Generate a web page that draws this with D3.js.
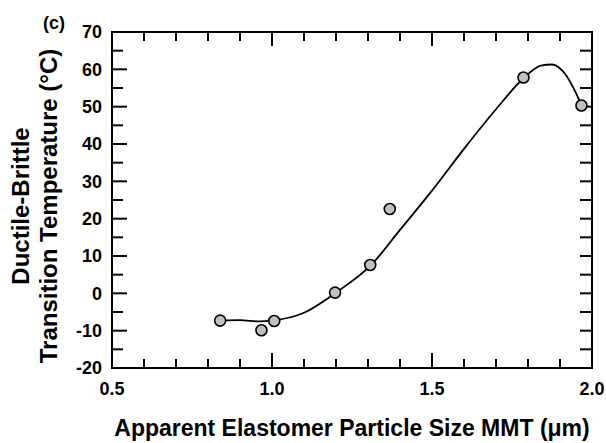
<!DOCTYPE html>
<html>
<head>
<meta charset="utf-8">
<script src="https://cdn.jsdelivr.net/npm/d3@7"></script>
<style>
  body { margin: 0; background: #fff; }
  svg text { font-family: "Liberation Sans", Arial, sans-serif; font-weight: bold; fill: #000; }
</style>
</head>
<body>
<div id="chart"></div>
<script>
// measured points
const particleSize = [0.838, 0.967, 1.007, 1.197, 1.307, 1.368, 1.786, 1.967];
const dbtt = [-7.3, -9.9, -7.4, 0.2, 7.6, 22.6, 57.8, 50.3];

// fitted curve
const fitSize = [0.838, 0.90, 0.96, 1.00, 1.10, 1.20, 1.31, 1.40, 1.50, 1.60, 1.70, 1.786, 1.84, 1.875, 1.92, 1.95, 1.967];
const fitTemp = [-7.3, -7.2, -7.5, -7.3, -5.2, 0.2, 7.6, 17.0, 27.5, 38.7, 49.3, 57.6, 61.0, 61.3, 58.3, 53.6, 50.3];

const xTicks = [0.5, 1.0, 1.5, 2.0];
const xTickLabels = ["0.5", "1.0", "1.5", "2.0"];
const yTicks = [-20, -10, 0, 10, 20, 30, 40, 50, 60, 70];

const W = 606, H = 443;
const margin = { top: 32, right: 14, bottom: 75, left: 112 };
const width = W - margin.left - margin.right;
const height = H - margin.top - margin.bottom;

const svg = d3.select("#chart").append("svg")
    .attr("width", W)
    .attr("height", H);

const g = svg.append("g")
    .attr("transform", "translate(" + margin.left + "," + margin.top + ")");

const x = d3.scaleLinear().domain([0.5, 2.0]).range([0, width]);
const y = d3.scaleLinear().domain([-20, 70]).range([height, 0]);

const minorX = d3.range(5, 21).map(d => d / 10);
const minorY = d3.range(-20, 71, 5);

// ticks, drawn inward on all four sides
function isMajorX(v) { return Math.abs(v * 2 - Math.round(v * 2)) < 1e-6; }
function isMajorY(v) { return v % 10 === 0; }

const ticks = g.append("g").attr("stroke", "#000").attr("stroke-width", 2);

minorX.forEach(v => {
    let len = isMajorX(v) ? 15 : 9;
    ticks.append("line").attr("x1", x(v)).attr("x2", x(v)).attr("y1", height).attr("y2", height - len);
    let lenTop = isMajorX(v) ? 14 : 9;
    ticks.append("line").attr("x1", x(v)).attr("x2", x(v)).attr("y1", 0).attr("y2", lenTop);
});

minorY.forEach(v => {
    let len = isMajorY(v) ? 15 : 11;
    ticks.append("line").attr("x1", 0).attr("x2", len).attr("y1", y(v)).attr("y2", y(v));
    ticks.append("line").attr("x1", width).attr("x2", width - 12).attr("y1", y(v)).attr("y2", y(v));
});

// frame
g.append("rect")
    .attr("width", width)
    .attr("height", height)
    .attr("fill", "none")
    .attr("stroke", "#000")
    .attr("stroke-width", 2);

// tick labels
g.selectAll(".ylab")
    .data(yTicks)
    .enter().append("text")
    .attr("class", "ylab")
    .attr("x", -10)
    .attr("y", d => y(d))
    .attr("dy", "0.36em")
    .attr("text-anchor", "end")
    .style("font-size", "18px")
    .text(d => d);

g.selectAll(".xlab")
    .data(xTicks)
    .enter().append("text")
    .attr("class", "xlab")
    .attr("x", d => x(d))
    .attr("y", height + 27)
    .attr("text-anchor", "middle")
    .style("font-size", "18px")
    .text((d, i) => xTickLabels[i]);

// fitted curve
const fitData = fitSize.map((s, i) => ({ s: s, t: fitTemp[i] }));
const line = d3.line()
    .x(d => x(d.s))
    .y(d => y(d.t))
    .curve(d3.curveMonotoneX);

g.append("path")
    .datum(fitData)
    .attr("d", line)
    .attr("fill", "none")
    .attr("stroke", "#000")
    .attr("stroke-width", 1.8);

// data points
const pts = particleSize.map((s, i) => ({ s: s, t: dbtt[i] }));
g.selectAll(".pt")
    .data(pts)
    .enter().append("circle")
    .attr("class", "pt")
    .attr("cx", d => x(d.s))
    .attr("cy", d => y(d.t))
    .attr("r", 5.5)
    .attr("fill", "#c0c0c0")
    .attr("stroke", "#000")
    .attr("stroke-width", 1.6);

// axis titles
svg.append("text")
    .attr("x", margin.left + width / 2)
    .attr("y", 436)
    .attr("text-anchor", "middle")
    .style("font-size", "23px")
    .text("Apparent Elastomer Particle Size MMT (μm)");

const yTitle = svg.append("text")
    .attr("transform", "translate(0," + (margin.top + height / 2 + 6) + ") rotate(-90)")
    .attr("text-anchor", "middle")
    .style("font-size", "24px");
yTitle.append("tspan").attr("x", 0).attr("y", 29).text("Ductile-Brittle");
yTitle.append("tspan").attr("x", 0).attr("y", 57).text("Transition Temperature (°C)");

// panel label
svg.append("text")
    .attr("x", 43)
    .attr("y", 29)
    .style("font-size", "18px")
    .text("(c)");
</script>
</body>
</html>
